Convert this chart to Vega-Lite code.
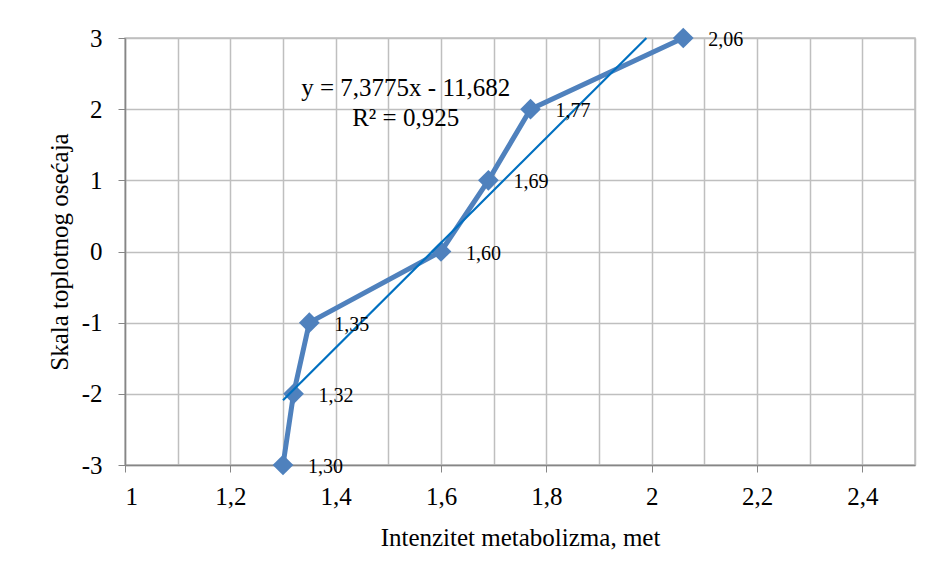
{
  "$schema": "https://vega.github.io/schema/vega-lite/v6.json",
  "width": 790,
  "height": 427,
  "autosize": {"type": "none"},
  "padding": {"left": 125, "top": 38, "right": 32, "bottom": 111},
  "background": "white",
  "config": {
    "font": "Liberation Serif",
    "view": {"stroke": "#bfbfbf", "strokeWidth": 1.5},
    "axis": {"labelFont": "Liberation Serif", "titleFont": "Liberation Serif", "labelColor": "#000", "titleColor": "#000", "titleFontWeight": "normal"}
  },
  "datasets": {
    "points": [
      {"x": 1.30, "y": -3, "label": "1,30"},
      {"x": 1.32, "y": -2, "label": "1,32"},
      {"x": 1.35, "y": -1, "label": "1,35"},
      {"x": 1.60, "y": 0, "label": "1,60"},
      {"x": 1.69, "y": 1, "label": "1,69"},
      {"x": 1.77, "y": 2, "label": "1,77"},
      {"x": 2.06, "y": 3, "label": "2,06"}
    ],
    "trend": [
      {"x": 1.30, "y": -2.091},
      {"x": 1.99, "y": 3.0}
    ]
  },
  "layer": [
    {
      "data": {"name": "points"},
      "mark": {"type": "line", "color": "#4F81BD", "strokeWidth": 5, "point": {"shape": "diamond", "size": 430, "filled": true, "color": "#4F81BD", "opacity": 1}},
      "encoding": {
        "x": {
          "field": "x", "type": "quantitative",
          "scale": {"domain": [1, 2.5], "nice": false, "zero": false},
          "axis": {
            "title": "Intenzitet metabolizma, met",
            "titleFontSize": 25,
            "titlePadding": 16,
            "values": [1, 1.1, 1.2, 1.3, 1.4, 1.5, 1.6, 1.7, 1.8, 1.9, 2.0, 2.1, 2.2, 2.3, 2.4, 2.5],
            "labelExpr": "round(datum.value*10) % 2 == 0 && datum.value < 2.45 ? replace(format(datum.value, '.1~f'), '.', ',') : ''",
            "labelFontSize": 25,
            "labelPadding": 12,
            "tickSize": 7,
            "tickColor": "#868686",
            "tickOpacity": {"condition": {"test": "round(datum.value*10) % 2 == 0 && datum.value < 2.45", "value": 1}, "value": 0},
            "domainColor": "#868686",
            "domainWidth": 1.5,
            "grid": true,
            "gridColor": "#bfbfbf",
            "gridWidth": 1.5
          }
        },
        "y": {
          "field": "y", "type": "quantitative",
          "scale": {"domain": [-3, 3], "nice": false},
          "axis": {
            "title": "Skala toplotnog osećaja",
            "titleFontSize": 25,
            "titlePadding": 9,
            "values": [-3, -2, -1, 0, 1, 2, 3],
            "labelExpr": "'' + datum.value",
            "labelFontSize": 25,
            "labelPadding": 16,
            "tickSize": 7,
            "tickColor": "#868686",
            "domainColor": "#868686",
            "domainWidth": 1.5,
            "grid": true,
            "gridColor": "#bfbfbf",
            "gridWidth": 1.5
          }
        }
      }
    },
    {
      "data": {"name": "trend"},
      "mark": {"type": "line", "color": "#0070C0", "strokeWidth": 2.2},
      "encoding": {
        "x": {"field": "x", "type": "quantitative"},
        "y": {"field": "y", "type": "quantitative"}
      }
    },
    {
      "data": {"name": "points"},
      "mark": {"type": "text", "align": "left", "baseline": "middle", "dx": 25, "dy": 2, "fontSize": 20, "font": "Liberation Serif", "color": "#000"},
      "encoding": {
        "x": {"field": "x", "type": "quantitative"},
        "y": {"field": "y", "type": "quantitative"},
        "text": {"field": "label"}
      }
    },
    {
      "data": {"values": [{"t": "y = 7,3775x - 11,682", "x": 1.533, "y": 2.297}, {"t": "R² = 0,925", "x": 1.533, "y": 1.876}]},
      "mark": {"type": "text", "align": "center", "baseline": "middle", "fontSize": 25, "font": "Liberation Serif", "color": "#000"},
      "encoding": {
        "x": {"field": "x", "type": "quantitative"},
        "y": {"field": "y", "type": "quantitative"},
        "text": {"field": "t"}
      }
    }
  ]
}
